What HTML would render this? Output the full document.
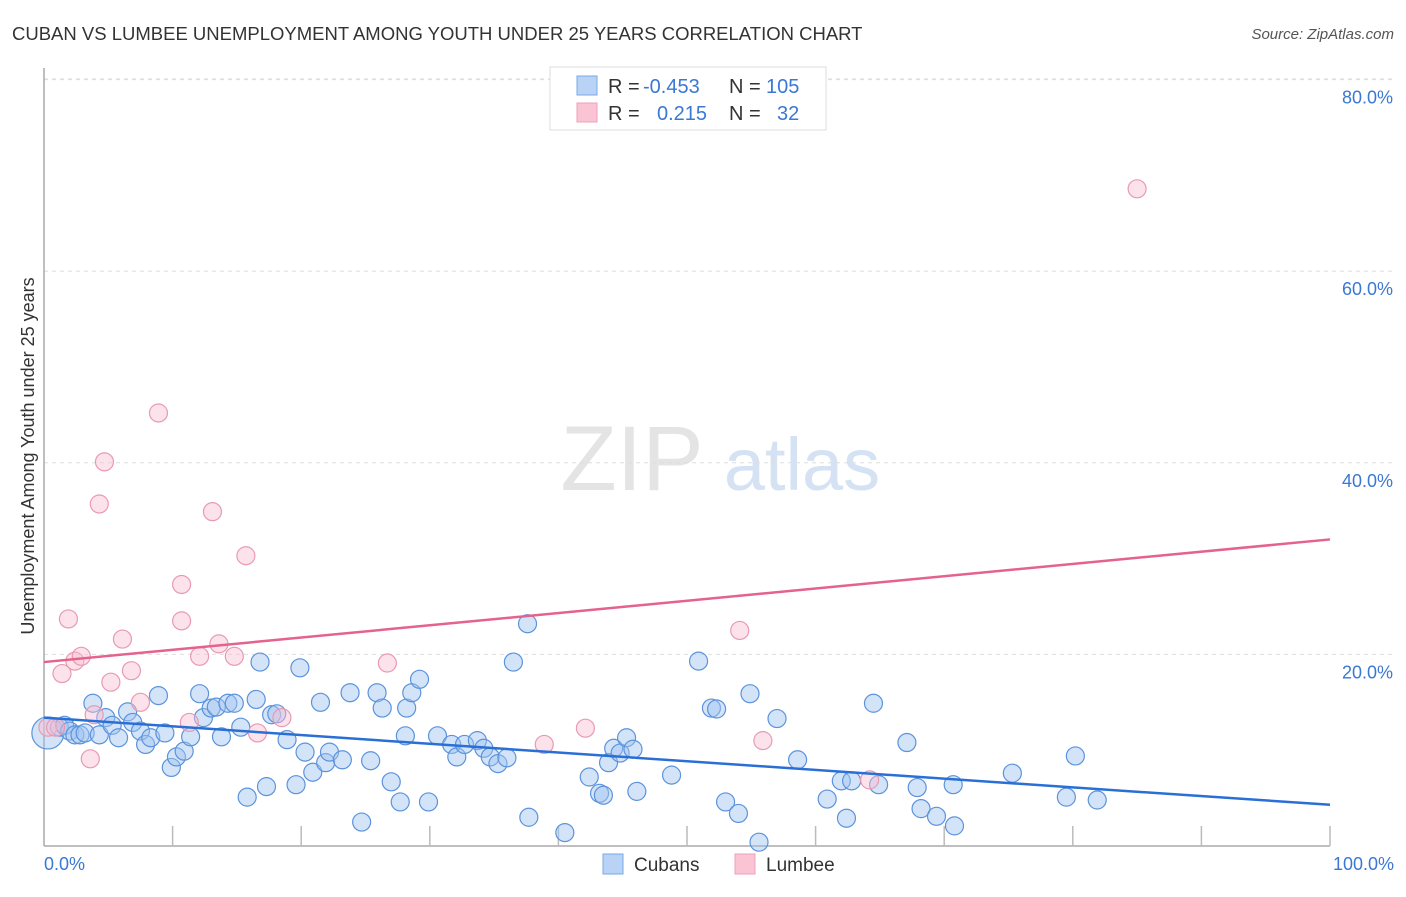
<!DOCTYPE html>
<html><head><meta charset="utf-8"><style>
body{margin:0;background:#fff;font-family:"Liberation Sans",sans-serif}
svg text{font-family:"Liberation Sans",sans-serif}
</style></head><body>
<svg id="chart" width="1406" height="892" xmlns="http://www.w3.org/2000/svg">
<text x="12" y="40" font-size="18.5" fill="#333">CUBAN VS LUMBEE UNEMPLOYMENT AMONG YOUTH UNDER 25 YEARS CORRELATION CHART</text>
<text x="1394" y="39" font-size="15" fill="#555" text-anchor="end" font-style="italic">Source: ZipAtlas.com</text>
<g>
<text x="632" y="490" font-size="92" fill="#e4e4e4" text-anchor="middle" font-family="Liberation Serif,serif">ZIP</text>
<text x="802" y="490" font-size="74" fill="#d4e2f4" text-anchor="middle">atlas</text>
</g>
<g id="grid"></g>
<g id="axes"></g>
<g id="marks"></g>
<text transform="translate(34,456) rotate(-90)" font-size="18" fill="#333" text-anchor="middle">Unemployment Among Youth under 25 years</text>
<text x="44" y="870" font-size="18" fill="#3a78d4">0.0%</text>
<text x="1394" y="870" font-size="18" fill="#3a78d4" text-anchor="end">100.0%</text>
<g>
<rect x="550" y="67" width="276" height="63" fill="#fff" stroke="#ddd"/>
<rect x="577" y="76" width="20" height="19" fill="#b8d3f5" stroke="#7aaae8"/>
<rect x="577" y="103" width="20" height="19" fill="#fac4d5" stroke="#eea0bb"/>
<text x="608" y="93" font-size="20" fill="#333">R =</text>
<text x="643" y="93" font-size="20" fill="#3a78d4">-0.453</text>
<text x="729" y="93" font-size="20" fill="#333">N =</text>
<text x="766" y="93" font-size="20" fill="#3a78d4">105</text>
<text x="608" y="120" font-size="20" fill="#333">R =</text>
<text x="657" y="120" font-size="20" fill="#3a78d4">0.215</text>
<text x="729" y="120" font-size="20" fill="#333">N =</text>
<text x="777" y="120" font-size="20" fill="#3a78d4">32</text>
</g>
<g>
<rect x="603" y="854" width="20" height="20" fill="#b8d3f5" stroke="#7aaae8"/>
<text x="634" y="871" font-size="19" fill="#333">Cubans</text>
<rect x="735" y="854" width="20" height="20" fill="#fac4d5" stroke="#eea0bb"/>
<text x="766" y="871" font-size="19" fill="#333">Lumbee</text>
</g>
</svg>
<script>
const yTicks=[20,40,60,80];
const yTickLabels=["20.0%","40.0%","60.0%","80.0%"];
const xTicks=[10,20,30,40,50,60,70,80,90,100];
const cubanX=[0.3,1.2,1.6,2.0,2.4,2.8,3.2,3.8,4.3,4.8,5.3,5.8,6.5,6.9,7.5,7.9,8.3,8.9,9.4,9.9,10.3,10.9,11.4,12.1,12.4,13.0,13.4,13.8,14.3,14.8,15.3,15.8,16.5,16.8,17.3,17.7,18.1,18.9,19.6,19.9,20.3,20.9,21.5,21.9,22.2,23.2,23.8,24.7,25.4,25.9,26.3,27.0,27.7,28.1,28.2,28.6,29.2,29.9,30.6,31.7,32.1,32.7,33.7,34.2,34.7,35.3,36.0,36.5,37.6,37.7,40.5,42.4,43.2,43.5,43.9,44.3,44.8,45.3,45.8,46.1,48.8,50.9,51.9,52.3,53.0,54.0,54.9,55.6,57.0,58.6,60.9,62.0,62.4,62.8,64.5,64.9,67.1,67.9,68.2,69.4,70.7,70.8,75.3,79.5,80.2,81.9];
const cubanY=[11.8,12.4,12.6,12.0,11.6,11.6,11.8,14.9,11.6,13.4,12.6,11.3,14.0,12.9,12.0,10.6,11.3,15.7,11.8,8.2,9.3,9.9,11.4,15.9,13.4,14.4,14.5,11.4,14.9,14.9,12.4,5.1,15.3,19.2,6.2,13.7,13.8,11.1,6.4,18.6,9.8,7.7,15.0,8.7,9.8,9.0,16.0,2.5,8.9,16.0,14.4,6.7,4.6,11.5,14.4,16.0,17.4,4.6,11.5,10.6,9.3,10.6,11.0,10.2,9.3,8.6,9.2,19.2,23.2,3.0,1.4,7.2,5.5,5.3,8.7,10.2,9.7,11.3,10.1,5.7,7.4,19.3,14.4,14.3,4.6,3.4,15.9,0.4,13.3,9.0,4.9,6.8,2.9,6.8,14.9,6.4,10.8,6.1,3.9,3.1,6.4,2.1,7.6,5.1,9.4,4.8];
const lumbeeX=[0.3,0.9,1.4,1.9,2.4,2.9,3.6,3.9,4.3,4.7,5.2,6.1,6.8,7.5,8.9,10.7,10.7,11.3,12.1,13.1,13.6,14.8,15.7,16.6,18.5,26.7,38.9,42.1,54.1,55.9,64.2,85.0];
const lumbeeY=[12.4,12.4,18.0,23.7,19.3,19.8,9.1,13.7,35.7,40.1,17.1,21.6,18.3,15.0,45.2,27.3,23.5,12.9,19.8,34.9,21.1,19.8,30.3,11.8,13.4,19.1,10.6,12.3,22.5,11.0,6.9,68.6];
const cubanTrend=[13.4,4.3];
const lumbeeTrend=[19.2,32.0];
const X0=44,X1=1330,Y0=846,YPER=9.58;
const xs=v=>X0+(X1-X0)*v/100;
const ys=v=>Y0-v*YPER;
const NS="http://www.w3.org/2000/svg";
function mk(tag,attrs,parent){const e=document.createElementNS(NS,tag);for(const k in attrs)e.setAttribute(k,attrs[k]);document.getElementById(parent).appendChild(e);return e;}
yTicks.forEach((t,i)=>{
  const l=mk('line',{x1:X0,x2:1394,y1:ys(t),y2:ys(t),stroke:'#ddd','stroke-dasharray':'4,4'},'grid');
  
  
  const tx=mk('text',{x:1393,y:ys(t)+24,'font-size':18,fill:'#3a78d4','text-anchor':'end'},'grid');
  tx.textContent=yTickLabels[i];
  
  
});
const topGrid=mk('line',{x1:X0,x2:1394,y1:79,y2:79,stroke:'#ddd','stroke-dasharray':'4,4'},'grid');


const ya=mk('line',{x1:X0,x2:X0,y1:68,y2:Y0,stroke:'#aaa','stroke-width':1.5},'axes');


const xa=mk('line',{x1:X0,x2:X1,y1:Y0,y2:Y0,stroke:'#aaa','stroke-width':1.5},'axes');


xTicks.forEach(t=>{
  const l=mk('line',{x1:xs(t),x2:xs(t),y1:826,y2:Y0,stroke:'#bbb','stroke-width':1.5},'axes');
  
  
});
cubanX.forEach((x,i)=>{
  const c=mk('circle',{cx:xs(x),cy:ys(cubanY[i]),r:i===0?16:9,fill:'rgba(160,196,240,0.45)',stroke:'#5b93dc','stroke-width':1.2},'marks');
  
  
});
lumbeeX.forEach((x,i)=>{
  const c=mk('circle',{cx:xs(x),cy:ys(lumbeeY[i]),r:9,fill:'rgba(248,190,210,0.45)',stroke:'#e89ab2','stroke-width':1.2},'marks');
  
  
});
const bt=mk('line',{x1:xs(0),x2:xs(100),y1:ys(cubanTrend[0]),y2:ys(cubanTrend[1]),stroke:'#2a6fd6','stroke-width':2.5},'marks');


const pt=mk('line',{x1:xs(0),x2:xs(100),y1:ys(lumbeeTrend[0]),y2:ys(lumbeeTrend[1]),stroke:'#e4628c','stroke-width':2.5},'marks');


</script>
</body></html>
